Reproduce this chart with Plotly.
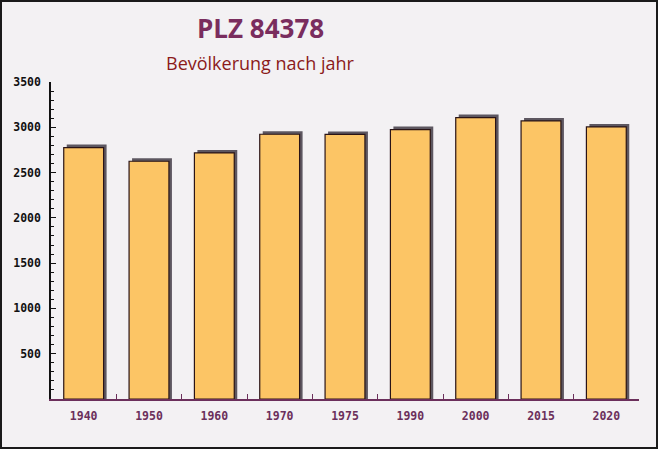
import plotly.graph_objects as go

years = ["1940", "1950", "1960", "1970", "1975", "1990", "2000", "2015", "2020"]
population = [2776, 2625, 2717, 2923, 2921, 2975, 3107, 3070, 3004]
y_ticks = [500, 1000, 1500, 2000, 2500, 3000, 3500]

W, H = 658, 449
ml, mr, mt, mb = 51, 19, 82, 50
pw, ph = W - ml - mr, H - mt - mb
y_max = 3500
bar_w = 0.61
dx_px, dy_px = 3, 3
dx = dx_px / (pw / len(years))
dy = dy_px * y_max / ph

fig = go.Figure()
fig.add_trace(go.Bar(
    x=years, y=[v + dy for v in population],
    width=bar_w, offset=-bar_w / 2 + dx,
    marker=dict(color="#5d5760", line=dict(width=0)),
    hoverinfo="skip", showlegend=False,
))
fig.add_trace(go.Bar(
    x=years, y=population,
    width=bar_w, offset=-bar_w / 2,
    marker=dict(color="#fcc565", line=dict(color="#2a1416", width=1.2)),
    showlegend=False,
))

fig.update_layout(
    width=W, height=H,
    margin=dict(l=ml, r=mr, t=mt, b=mb),
    barmode="overlay",
    paper_bgcolor="#f3f1f3",
    plot_bgcolor="rgba(0,0,0,0)",
    xaxis=dict(
        type="category",
        showgrid=False, zeroline=False,
        showline=True, linecolor="#6b2f5b", linewidth=1.5,
        ticks="inside", tickson="boundaries", ticklen=5, tickcolor="#6b2f5b",
        tickfont=dict(family="DejaVu Sans Mono", size=11.5, color="#6b2f5b", weight="bold"),
        ticklabelstandoff=5,
        fixedrange=True,
    ),
    yaxis=dict(
        range=[0, y_max],
        tickvals=y_ticks,
        showgrid=False, zeroline=False,
        showline=True, linecolor="#111111", linewidth=1.5,
        ticks="inside", ticklen=5, tickcolor="#111111",
        minor=dict(dtick=100, ticks="inside", ticklen=3, tickcolor="#111111", showgrid=False),
        tickfont=dict(family="DejaVu Sans Mono", size=11.5, color="#111111", weight="bold"),
        ticklabelstandoff=6,
        fixedrange=True,
    ),
    annotations=[
        dict(text="PLZ 84378", xref="paper", yref="paper",
             x=(260 - ml) / pw, y=1 + (mt - 48) / ph, xanchor="center", yanchor="bottom",
             showarrow=False, font=dict(family="Open Sans", size=26, color="#7a2d5e", weight="bold")),
        dict(text="Bevölkerung nach jahr", xref="paper", yref="paper",
             x=(260 - ml) / pw, y=1 + (mt - 77) / ph, xanchor="center", yanchor="bottom",
             showarrow=False, font=dict(family="Open Sans", size=18, color="#8b1a1a")),
    ],
    shapes=[
        dict(type="rect", xref="paper", yref="paper",
             x0=-(ml - 1) / pw, x1=1 + (mr - 1) / pw, y0=-(mb - 1) / ph, y1=1 + (mt - 1) / ph,
             line=dict(color="#1a1a1a", width=2), fillcolor="rgba(0,0,0,0)", layer="above"),
    ],
)

fig.write_html("out.html", config={"displayModeBar": False},
               post_script="document.body.style.margin='0';")
